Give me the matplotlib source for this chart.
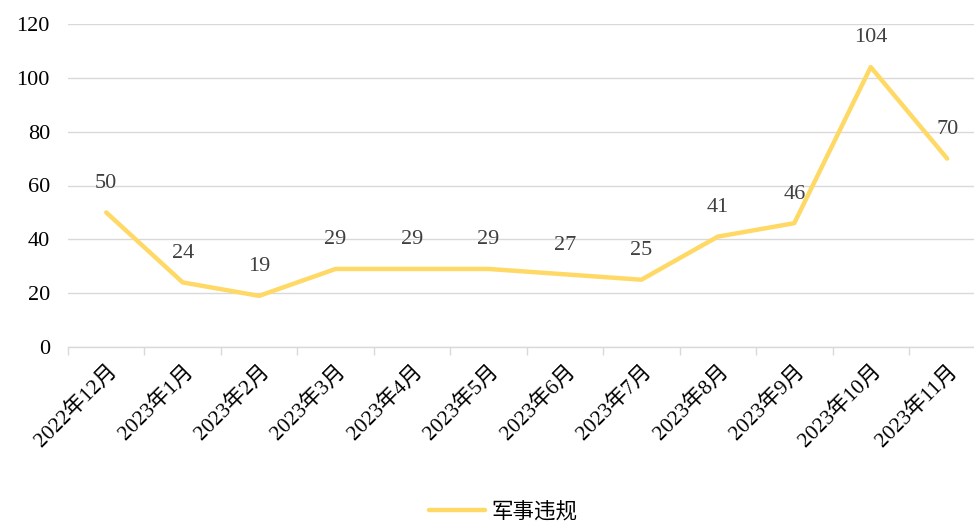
import matplotlib.pyplot as plt
from matplotlib.lines import Line2D

months = ['2022年12月', '2023年1月', '2023年2月', '2023年3月', '2023年4月', '2023年5月',
          '2023年6月', '2023年7月', '2023年8月', '2023年9月', '2023年10月', '2023年11月']
counts = [50, 24, 19, 29, 29, 29, 27, 25, 41, 46, 104, 70]
series_name = '军事违规'
y_ticks = [0, 20, 40, 60, 80, 100, 120]

line_color = '#FFD966'
grid_color = '#D9D9D9'
fonts = ['Liberation Serif', 'Noto Sans CJK SC']

fig = plt.figure(figsize=(9.74, 5.23), dpi=100)
# plot area runs a little past the right edge, as in the original
ax = fig.add_axes([68 / 974, 176 / 523, 12 * 76.45 / 974, 323 / 523])

x = list(range(len(months)))
ax.plot(x, counts, color=line_color, linewidth=3.2, solid_joinstyle='round',
        solid_capstyle='round', zorder=3)

for xi, v in zip(x, counts):
    ax.annotate(str(v), (xi, v), xytext=(0, 21), textcoords='offset points',
                ha='center', va='center', fontsize=16, color='#404040',
                family=fonts, zorder=4)

ax.set_xlim(-0.5, len(months) - 0.5)
ax.set_ylim(0, 120)

ax.set_yticks(y_ticks)
ax.set_yticklabels([str(t) for t in y_ticks], family=fonts, fontsize=16)
ax.tick_params(axis='y', length=0, pad=13)

ax.set_xticks(x)
ax.set_xticklabels(months, family=fonts, fontsize=15.5, rotation=45,
                   ha='right', va='top', rotation_mode='anchor')
ax.set_xticks([i - 0.5 for i in range(len(months) + 1)], minor=True)
ax.tick_params(axis='x', which='major', length=0, pad=10)
ax.tick_params(axis='x', which='minor', length=6, color=grid_color, width=1)

ax.yaxis.grid(True, color=grid_color, linewidth=1)
ax.set_axisbelow(True)
for side in ['top', 'right', 'left']:
    ax.spines[side].set_visible(False)
ax.spines['bottom'].set_color(grid_color)
ax.spines['bottom'].set_linewidth(1)

handle = Line2D([0], [0], color=line_color, linewidth=3.2, solid_capstyle='round')
fig.legend([handle], [series_name], loc='center', bbox_to_anchor=(0.517, 0.02),
           frameon=False, prop={'family': fonts, 'size': 15.5}, handlelength=2.6,
           handletextpad=0.3)

fig.savefig('out.png', dpi=100)
